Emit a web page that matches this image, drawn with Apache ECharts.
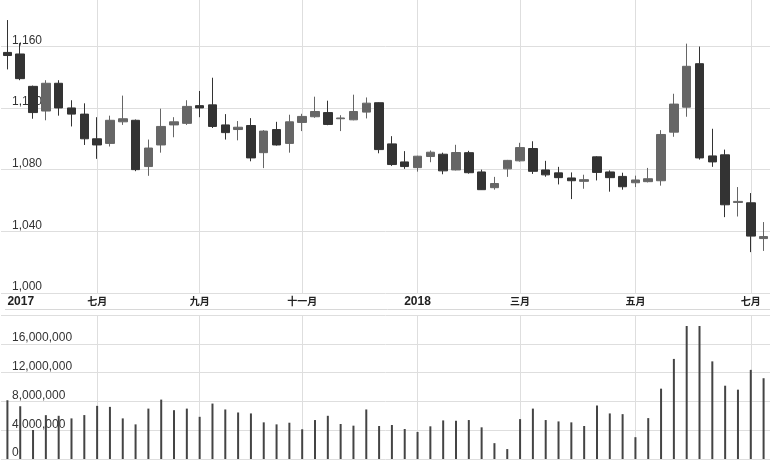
<!DOCTYPE html>
<html>
<head>
<meta charset="utf-8">
<script src="https://cdn.jsdelivr.net/npm/echarts@6/dist/echarts.min.js"></script>
<style>html,body{margin:0;padding:0;background:#fff;}#c{width:778px;height:467px;}</style>
</head>
<body>
<div id="c"></div>
<script>
var dates = ['2017-05-15','2017-05-22','2017-05-29','2017-06-05','2017-06-12','2017-06-19','2017-06-26','2017-07-03','2017-07-10','2017-07-17','2017-07-24','2017-07-31','2017-08-07','2017-08-14','2017-08-21','2017-08-28','2017-09-04','2017-09-11','2017-09-18','2017-09-25','2017-10-09','2017-10-16','2017-10-23','2017-10-30','2017-11-06','2017-11-13','2017-11-20','2017-11-27','2017-12-04','2017-12-11','2017-12-18','2017-12-25','2018-01-01','2018-01-08','2018-01-15','2018-01-22','2018-01-29','2018-02-05','2018-02-12','2018-02-19','2018-02-26','2018-03-05','2018-03-12','2018-03-19','2018-03-26','2018-04-02','2018-04-09','2018-04-16','2018-04-23','2018-04-30','2018-05-07','2018-05-14','2018-05-21','2018-05-28','2018-06-04','2018-06-11','2018-06-18','2018-06-25','2018-07-02','2018-07-09'];
var opens  = [1156,1155,1134,1118,1136,1120,1116,1100,1097,1111,1112,1082,1096,1109,1110,1121.5,1122,1109,1106,1108.6,1091,1106,1097,1110.6,1114.3,1117,1113,1112.3,1117.3,1123.4,1096.7,1085,1081.3,1088.5,1090,1079.8,1091,1078.5,1068.3,1080.5,1085.7,1093.7,1079.8,1077.9,1074.6,1072.4,1088.3,1078.5,1075.6,1071.5,1072.2,1072.8,1104.3,1120.5,1148.7,1088.9,1089.6,1058.7,1058.5,1035.3];
var closes = [1154,1139,1117,1136,1120,1116,1100,1096,1112,1113,1080,1094,1108,1111,1121,1120,1108,1104,1107.5,1087.6,1105,1096,1111,1114.5,1117.7,1109.3,1113.5,1117.7,1123.1,1093,1083.3,1082,1088.7,1091.3,1079.2,1091.1,1078,1067,1071,1086,1094.3,1078.9,1076.6,1074.8,1072.8,1073.5,1078.2,1074.8,1068.9,1073.3,1074.1,1102.8,1122.5,1147,1087.6,1085,1057.2,1059.4,1036.9,1036.6];
var lows   = [1145,1138,1113,1112,1115,1108,1096,1087,1095,1109,1079,1076,1091,1101,1109,1114,1107,1099.5,1099,1085.4,1081,1095.6,1091,1105,1113.6,1108.8,1105,1112,1113.2,1090.6,1082.4,1080.5,1078.7,1084.8,1077,1079.5,1077.4,1066.8,1067,1075.3,1085.2,1077.2,1075.4,1070.4,1060.9,1067.6,1073,1065.7,1067,1068.7,1071.7,1069.6,1101.3,1114.3,1086.5,1081.8,1049.2,1049.6,1026.5,1027.3];
var highs  = [1177,1162,1134.5,1138,1138,1125,1123,1114,1115,1128,1112.5,1099.5,1119.5,1114,1125,1131,1139.6,1116,1111.5,1113.4,1105.6,1111,1115.6,1116.2,1127.3,1124.7,1115.3,1128.6,1126.8,1123.6,1101.7,1092,1089,1092.4,1091,1096.1,1092.2,1080,1075.3,1086.3,1097.4,1098.4,1085.7,1081.8,1078.2,1076.7,1088.7,1079.5,1078,1076.1,1081.1,1105.6,1129.2,1161.7,1159.8,1106.5,1093,1068.7,1064.8,1046];
var volumes = [8160000,7330000,4030000,6090000,6000000,5640000,6100000,7380000,7240000,5640000,4810000,7000000,8250000,6780000,7000000,5860000,7700000,6880000,6460000,6330000,5090000,4810000,5040000,4130000,5410000,6000000,4860000,4630000,6880000,4580000,4720000,4170000,3760000,4540000,5360000,5310000,5410000,4400000,2200000,1380000,5540000,7000000,5410000,5220000,5090000,4580000,7430000,6330000,6230000,3030000,5680000,9770000,13900000,18470000,18470000,13560000,10180000,9630000,12380000,11220000];
var tickDates = ['2017-05-15','2017-07-03','2017-08-28','2017-10-30','2018-01-01','2018-02-26','2018-04-30','2018-07-02'];
var tickTexts = ['2017','七月','九月','十一月','2018','三月','五月','七月'];

var labelMap = {};
tickDates.forEach(function(d, i){ labelMap[d] = tickTexts[i]; });
var ohlc = dates.map(function(d, i){ return [opens[i], closes[i], lows[i], highs[i]]; });
var vlines = tickDates.slice(1).map(function(d){ return {xAxis: d}; });
function fmt(v){ return String(v).replace(/\B(?=(\d{3})+(?!\d))/g, ','); }

var FONT = '"Liberation Sans", Arial, "Noto Sans CJK SC", sans-serif';
var grid = '#dedede';
var chart = echarts.init(document.getElementById('c'), null, {renderer: 'canvas'});
chart.setOption({
  animation: false,
  backgroundColor: '#ffffff',
  textStyle: {fontFamily: FONT},
  grid: [
    {left: 1, right: 8, top: 0, height: 293},
    {left: 1, right: 8, top: 315, height: 144}
  ],
  graphic: [
    {type: 'line', shape: {x1: 5, y1: 309.5, x2: 770, y2: 309.5}, style: {stroke: '#d8d8d8', lineWidth: 1}, silent: true}
  ],
  xAxis: [
    {type: 'category', gridIndex: 0, data: dates, boundaryGap: true,
     axisLine: {show: false}, axisTick: {show: false}, splitLine: {show: false},
     axisLabel: {
       interval: function(i, v){ return labelMap[v] !== undefined; },
       formatter: function(v){
         var t = labelMap[v] || '';
         return /^\d+$/.test(t) ? '{n|' + t + '}' : '{c|' + t + '}';
       },
       alignMinLabel: 'left',
       margin: 3,
       rich: {
         n: {fontSize: 12, fontWeight: 'bold', color: '#222', fontFamily: FONT},
         c: {fontSize: 10, fontWeight: 'bold', color: '#222', fontFamily: '"Noto Sans CJK SC", sans-serif'}
       }
     }},
    {type: 'category', gridIndex: 1, data: dates, boundaryGap: true,
     axisLine: {show: false}, axisTick: {show: false}, axisLabel: {show: false}, splitLine: {show: false}}
  ],
  yAxis: [
    {type: 'value', gridIndex: 0, min: 1000, max: 1190, interval: 40,
     axisLine: {show: false}, axisTick: {show: false},
     splitLine: {showMaxLine: false, lineStyle: {color: grid, width: 1}},
     axisLabel: {inside: true, margin: 11, verticalAlign: 'bottom', color: '#333', fontSize: 12,
       fontFamily: FONT, showMaxLabel: false, formatter: function(v){ return v > 1180 ? '' : fmt(v); }}},
    {type: 'value', gridIndex: 1, min: 0, max: 20000000, interval: 4000000,
     axisLine: {show: false}, axisTick: {show: false},
     splitLine: {lineStyle: {color: grid, width: 1}},
     axisLabel: {inside: true, margin: 11, verticalAlign: 'bottom', color: '#333', fontSize: 12,
       fontFamily: FONT, showMaxLabel: false, formatter: function(v){ return v >= 20000000 ? '' : fmt(v); }}}
  ],
  series: [
    {type: 'candlestick', xAxisIndex: 0, yAxisIndex: 0, data: ohlc, barWidth: 9,
     itemStyle: {color: '#666666', color0: '#333333', borderColor: '#666666', borderColor0: '#333333', borderWidth: 1},
     markLine: {silent: true, symbol: 'none', z: 1, label: {show: false},
       lineStyle: {color: grid, type: 'solid', width: 1}, data: vlines}},
    {type: 'bar', xAxisIndex: 1, yAxisIndex: 1, data: volumes, barWidth: 2,
     itemStyle: {color: '#444444'},
     markLine: {silent: true, symbol: 'none', z: 1, label: {show: false},
       lineStyle: {color: grid, type: 'solid', width: 1}, data: vlines}}
  ]
});
</script>
</body>
</html>
